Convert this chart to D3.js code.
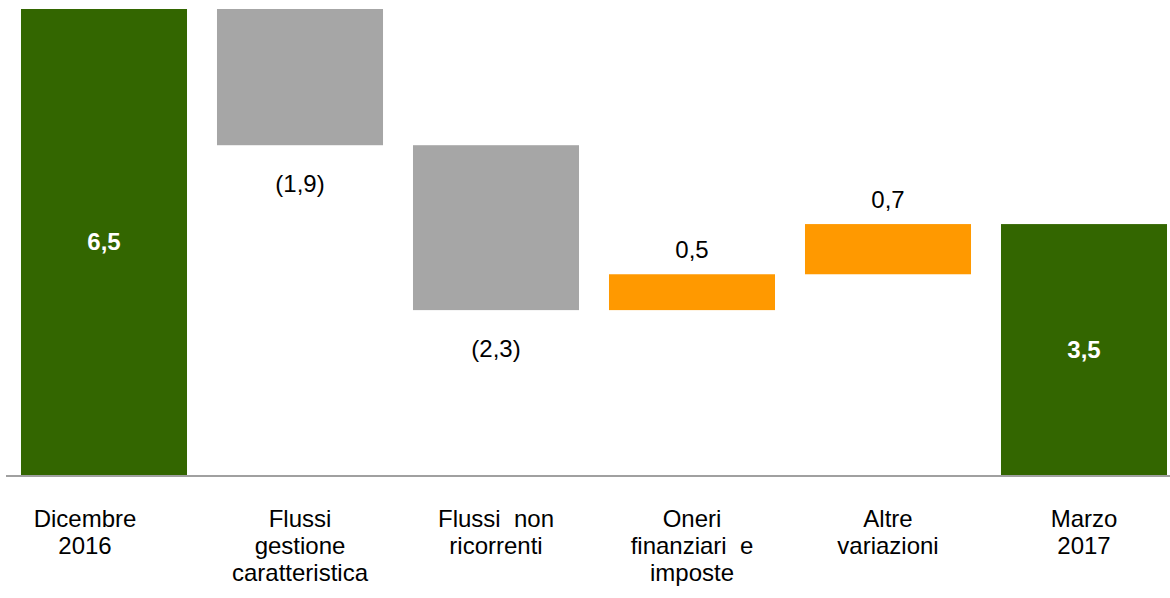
<!DOCTYPE html>
<html>
<head>
<meta charset="utf-8">
<script src="https://cdn.jsdelivr.net/npm/d3@7"></script>
<style>
  html, body { margin: 0; padding: 0; background: #fff; }
  svg { display: block; font-family: "Liberation Sans", Arial, sans-serif; }
</style>
</head>
<body>
<div id="chart"></div>
<script>
const categories = [
  ['Dicembre', '2016'],
  ['Flussi', 'gestione', 'caratteristica'],
  ['Flussi  non', 'ricorrenti'],
  ['Oneri', 'finanziari  e', 'imposte'],
  ['Altre', 'variazioni'],
  ['Marzo', '2017']
];
const values = [6.5, -1.9, -2.3, 0.5, 0.7, 3.5];
const kinds = ['total', 'delta', 'delta', 'delta', 'delta', 'total'];

const W = 1170, H = 598;
const baseY = 475;

const svg = d3.select('#chart').append('svg')
  .attr('width', W).attr('height', H);

// build waterfall steps
let running = 0;
const steps = values.map((v, i) => {
  let y0, y1;
  if (kinds[i] === 'total') { y0 = 0; y1 = v; running = v; }
  else { y0 = running; y1 = running + v; running = y1; }
  return { i, v, kind: kinds[i], lo: Math.min(y0, y1), hi: Math.max(y0, y1) };
});

const x = d3.scaleBand()
  .domain(d3.range(categories.length))
  .range([6, 1182])
  .paddingInner(0.153)
  .paddingOuter(0.0765);

const y = d3.scaleLinear().domain([0, 6.5]).range([baseY, 9]);

const color = d => d.kind === 'total' ? '#336600' : (d.v < 0 ? '#a6a6a6' : '#ff9900');
const fmt = v => d3.format('.1f')(Math.abs(v)).replace('.', ',');

svg.append('g').selectAll('rect')
  .data(steps).join('rect')
  .attr('x', d => x(d.i))
  .attr('y', d => y(d.hi))
  .attr('width', x.bandwidth())
  .attr('height', d => y(d.lo) - y(d.hi))
  .attr('fill', color);

// axis line
svg.append('line')
  .attr('x1', 6).attr('x2', W)
  .attr('y1', baseY + 1).attr('y2', baseY + 1)
  .attr('stroke', '#a0a0a0').attr('stroke-width', 2);

// value labels
svg.append('g').selectAll('text')
  .data(steps).join('text')
  .attr('x', d => x(d.i) + x.bandwidth() / 2)
  .attr('y', d => {
    if (d.kind === 'total') return (y(d.lo) + y(d.hi)) / 2;
    return d.v < 0 ? y(d.lo) + 47 : y(d.hi) - 16;
  })
  .attr('dy', d => d.kind === 'total' ? '0.35em' : null)
  .attr('text-anchor', 'middle')
  .attr('font-size', '24px')
  .attr('font-weight', d => d.kind === 'total' ? 'bold' : 'normal')
  .attr('fill', d => d.kind === 'total' ? '#fff' : '#000')
  .text(d => d.v < 0 ? `(${fmt(d.v)})` : fmt(d.v));

// category labels (the first one sits a bit left of its bar in the original)
const cat = svg.append('g').selectAll('text')
  .data(categories).join('text')
  .attr('x', (d, i) => x(i) + x.bandwidth() / 2 - (i === 0 ? 19 : 0))
  .attr('y', 527)
  .attr('text-anchor', 'middle')
  .attr('font-size', '24px')
  .attr('fill', '#000')
  .style('white-space', 'pre');

cat.selectAll('tspan')
  .data(d => d).join('tspan')
  .attr('x', function () { return this.parentNode.getAttribute('x'); })
  .attr('dy', (d, j) => j === 0 ? 0 : 27)
  .text(d => d);
</script>
</body>
</html>
